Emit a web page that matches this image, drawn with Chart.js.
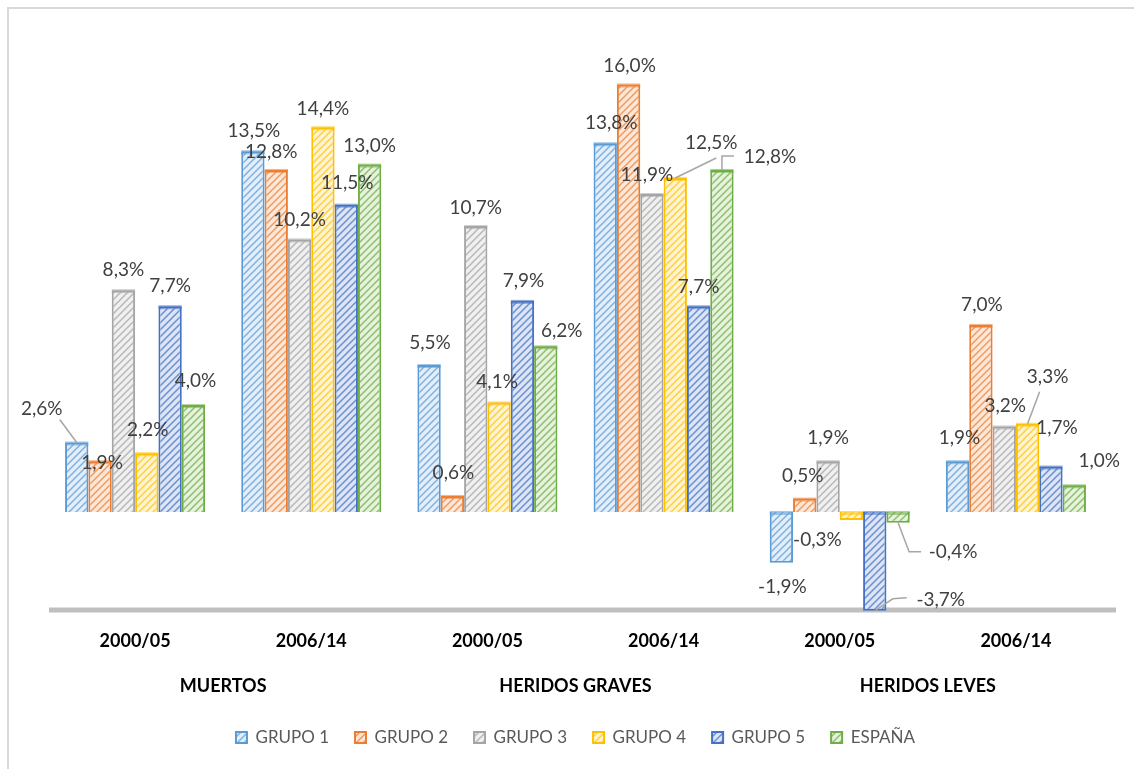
<!DOCTYPE html>
<html><head><meta charset="utf-8">
<script src="https://cdn.jsdelivr.net/npm/chart.js@4/dist/chart.umd.min.js"></script>
<style>html,body{margin:0;padding:0;background:#fff}#wrap{width:1134px;height:769px;position:relative}</style>
</head><body><div id="wrap"><canvas id="c" width="1134" height="769"></canvas></div>
<script>
const categories = ['2000/05','2006/14','2000/05','2006/14','2000/05','2006/14'];
const groups = ['MUERTOS','HERIDOS GRAVES','HERIDOS LEVES'];
const seriesNames = ['GRUPO 1','GRUPO 2','GRUPO 3','GRUPO 4','GRUPO 5','ESPAÑA'];
const grupo1 = [2.6, 13.5, 5.5, 13.8, -1.9, 1.9];
const grupo2 = [1.9, 12.8, 0.6, 16.0, 0.5, 7.0];
const grupo3 = [8.3, 10.2, 10.7, 11.9, 1.9, 3.2];
const grupo4 = [2.2, 14.4, 4.1, 12.5, -0.3, 3.3];
const grupo5 = [7.7, 11.5, 7.9, 7.7, -3.7, 1.7];
const espana = [4.0, 13.0, 6.2, 12.8, -0.4, 1.0];
const seriesValues = [grupo1, grupo2, grupo3, grupo4, grupo5, espana];

// styling
const borderColors = ['#5B9BD5','#ED7D31','#A5A5A5','#FFC000','#4472C4','#70AD47'];
const lineColors   = ['#7FB1E0','#F19A5E','#B8B8B8','#FFCF40','#6A8FD2','#8DBF6C'];
const bgColors     = ['#E3EEF9','#FCE8DA','#F0F0F0','#FFF4D1','#DDE5F5','#E6F2DE'];
// label offsets [dx,dy] from bar end (per series, per category)
const labelOffsets = [
  [[-35,-34],[1,-20],[1,-22],[6,-20],[1,24],[2,-23]],
  [[2,2],[-5,-18],[1,-23],[1,-19],[-2,-23],[1,-20]],
  [[0,-20],[0,-20],[0,-18],[-5,-19],[0,-23],[1,-21]],
  [[1,-23],[0,-18],[-2,-21],[36,-35],[-34,20],[20,-47]],
  [[0,-20],[1,-22],[1,-20],[0,-19],[66,-11],[6,-39]],
  [[2,-24],[0,-19],[16,-15],[48,-13],[55,29],[25,-24]]
];
const leaders = {
  '0-0': {start:[18,11]},
  '3-3': {start:[5,15]},
  '5-3': {start:[-36,-1], elbow:[0,-14]},
  '5-4': {start:[-32,0], elbow:[11,29]},
  '4-4': {start:[-34,-2], elbow:[18,-12]},
  '3-5': {start:[-8,15]}
};

function hatch(line, bg){
  const s=7, c=document.createElement('canvas'); c.width=s; c.height=s;
  const g=c.getContext('2d'); g.fillStyle=bg; g.fillRect(0,0,s,s);
  g.strokeStyle=line; g.lineWidth=1.5;
  g.beginPath();
  g.moveTo(0,s); g.lineTo(s,0);
  g.moveTo(-2,2); g.lineTo(2,-2);
  g.moveTo(s-2,s+2); g.lineTo(s+2,s-2);
  g.stroke();
  return g.createPattern(c,'repeat');
}

const fmt = v => v.toFixed(1).replace('.', ',') + '%';

const decor = {
  id:'decor',
  beforeDraw(chart){
    const ctx=chart.ctx;
    ctx.save();
    ctx.strokeStyle='#D9D9D9'; ctx.lineWidth=2;
    ctx.beginPath(); ctx.moveTo(8,769); ctx.lineTo(8,8); ctx.lineTo(1134,8); ctx.stroke();
    const a=chart.chartArea;
    ctx.fillStyle='#BFBFBF';
    ctx.fillRect(a.left+2, a.bottom-6, a.right-a.left+10, 5);
    ctx.restore();
  },
  afterDatasetsDraw(chart){
    const ctx=chart.ctx;
    ctx.save();
    chart.data.datasets.forEach((ds,si)=>{
      chart.getDatasetMeta(si).data.forEach((bar)=>{
        const top=Math.min(bar.y, bar.base);
        ctx.fillStyle=borderColors[si]; ctx.globalAlpha=0.55;
        ctx.fillRect(bar.x-bar.width/2, top-1, bar.width, 4);
        ctx.globalAlpha=1;
      });
    });
    ctx.font='19px Lato';
    ctx.textAlign='center'; ctx.textBaseline='middle';
    chart.data.datasets.forEach((ds,si)=>{
      chart.getDatasetMeta(si).data.forEach((bar,ci)=>{
        const off=labelOffsets[si][ci];
        const lx=bar.x+off[0], ly=bar.y+off[1];
        const ld=leaders[si+'-'+ci];
        if(ld){
          ctx.strokeStyle='#A6A6A6'; ctx.lineWidth=1.5;
          ctx.beginPath();
          ctx.moveTo(lx+ld.start[0], ly+ld.start[1]);
          if(ld.elbow) ctx.lineTo(bar.x+ld.elbow[0], bar.y+ld.elbow[1]);
          ctx.lineTo(bar.x, bar.y);
          ctx.stroke();
        }
        ctx.fillStyle='#404040';
        ctx.fillText(fmt(ds.data[ci]), lx, ly);
      });
    });
    ctx.restore();
  },
  afterDraw(chart){
    const ctx=chart.ctx, a=chart.chartArea, xs=chart.scales.x;
    ctx.save();
    ctx.fillStyle='#000'; ctx.textAlign='center'; ctx.textBaseline='middle';
    ctx.font='bold 18px Lato';
    categories.forEach((c,i)=>ctx.fillText(c, xs.getPixelForValue(i), a.bottom+27.5));
    groups.forEach((g,i)=>{
      const x=(xs.getPixelForValue(2*i)+xs.getPixelForValue(2*i+1))/2;
      ctx.fillText(g, x, a.bottom+72.5);
    });
    ctx.restore();
  }
};

new Chart(document.getElementById('c'), {
  type:'bar',
  data:{
    labels: categories.map((c,i)=>c+' '+groups[Math.floor(i/2)]),
    datasets: seriesNames.map((n,i)=>({
      label:n, data:seriesValues[i],
      backgroundColor:hatch(lineColors[i], bgColors[i]),
      borderColor:borderColors[i], borderWidth:2,
      categoryPercentage:0.795, barPercentage:1
    }))
  },
  options:{
    responsive:false, animation:false, devicePixelRatio:1,
    layout:{padding:{left:47, right:30, top:31, bottom:13}},
    scales:{
      y:{display:false, min:-3.8, max:18},
      x:{display:true, grid:{display:false}, border:{display:false}, ticks:{display:false},
         afterFit(s){ s.height=89.5; }}
    },
    plugins:{
      legend:{position:'bottom', labels:{boxWidth:11, boxHeight:11, padding:26, color:'#595959', font:{family:'Lato', size:17}}},
      tooltip:{enabled:false}
    }
  },
  plugins:[decor]
});
</script></body></html>
